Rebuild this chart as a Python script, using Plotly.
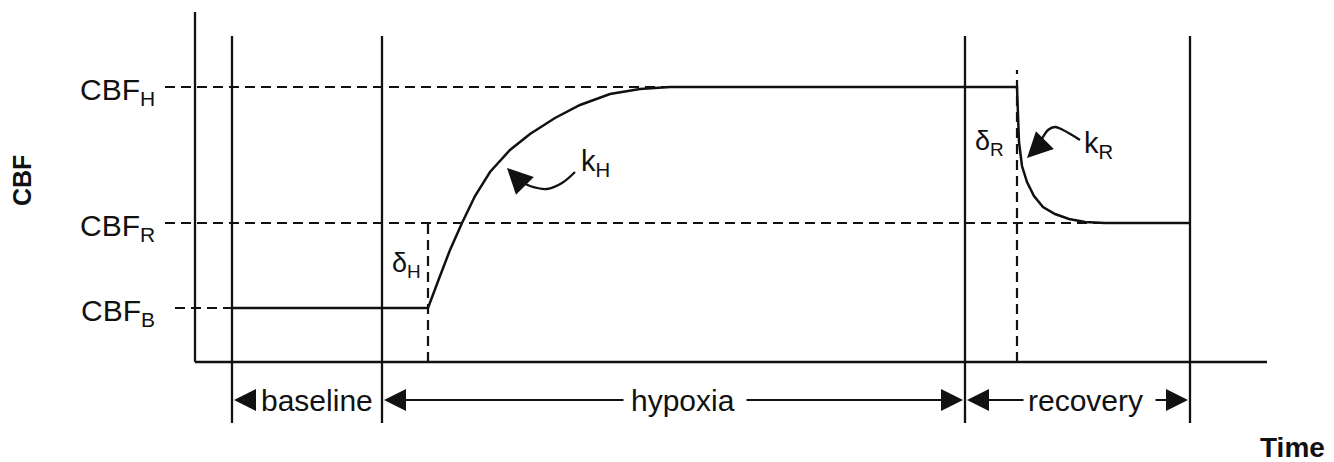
import plotly.graph_objects as go

FONT = "Liberation Sans, Arial, sans-serif"
INK = "#111111"

# time axis runs in arbitrary units, CBF in arbitrary units
PHASE_EDGES = [3.7, 18.7, 77.0, 99.5]
PHASE_NAMES = ["baseline", "hypoxia", "recovery"]
PHASE_LABEL_T = [12.2, 48.8, 89.0]

LEVEL_NAMES = ["CBF<sub>B</sub>", "CBF<sub>R</sub>", "CBF<sub>H</sub>"]
LEVEL_VALUES = [5.4, 13.9, 27.5]
LEVEL_DASH_END = [23.3, 99.5, 82.2]

T_HYPOXIA_ONSET = 23.3
T_RECOVERY_ONSET = 82.2

# CBF response
TIME = [3.7, 23.3, 24.5, 25.5, 26.7, 28.0, 29.5, 31.5, 33.5, 36.0, 38.5,
        41.5, 44.5, 47.5, 82.2, 82.3, 82.4, 82.7, 83.2, 83.9, 84.8, 86.0,
        87.4, 89.0, 91.0, 99.5]
CBF = [5.4, 5.4, 8.6, 11.2, 13.9, 16.6, 19.0, 21.2, 22.8, 24.4, 25.7,
       26.8, 27.3, 27.5, 27.5, 24.6, 22.0, 19.6, 18.0, 16.6, 15.5, 14.8,
       14.3, 14.0, 13.9, 13.9]

# curved pointers to the rate constants
KH_T = [38.0, 36.7, 35.2, 33.5, 32.5]
KH_CBF = [19.0, 17.9, 17.3, 17.6, 18.1]
KH_TIP = (31.2, 19.4)
KR_T = [88.5, 87.7, 86.8, 86.0, 85.3, 84.8, 84.3]
KR_CBF = [22.2, 22.7, 23.2, 23.5, 23.2, 22.5, 21.5]
KR_TIP = (83.2, 20.4)

X_MAX = 107.2
Y_MAX = 35.0
ARROW_Y = -3.8

fig = go.Figure()

line = dict(color=INK, width=2.3)
dash = dict(color=INK, width=2.2, dash="10px,6px")

# axes
fig.add_shape(type="line", x0=0, x1=0, y0=0, y1=Y_MAX, line=line)
fig.add_shape(type="line", x0=0, x1=X_MAX, y0=0, y1=0, line=line)

# phase boundaries
for t in PHASE_EDGES:
    fig.add_shape(type="line", x0=t, x1=t, y0=-6.1, y1=32.6, line=line)

# reference levels
for name, level, end in zip(LEVEL_NAMES, LEVEL_VALUES, LEVEL_DASH_END):
    start = -2.0 if level == LEVEL_VALUES[0] else -3.0
    fig.add_shape(type="line", x0=start, x1=end, y0=level, y1=level, line=dash)
    fig.add_annotation(x=-3.8, y=level - 0.4, text=name, showarrow=False,
                       xanchor="right", yanchor="middle",
                       font=dict(size=30, color=INK))

# onset markers
fig.add_shape(type="line", x0=T_HYPOXIA_ONSET, x1=T_HYPOXIA_ONSET,
              y0=0, y1=LEVEL_VALUES[1], line=dash)
fig.add_shape(type="line", x0=T_RECOVERY_ONSET, x1=T_RECOVERY_ONSET,
              y0=0, y1=29.2, line=dash)

fig.add_trace(go.Scatter(x=TIME, y=CBF, mode="lines",
                         line=dict(color=INK, width=2.5), hoverinfo="skip"))

for xs, ys in [(KH_T, KH_CBF), (KR_T, KR_CBF)]:
    fig.add_trace(go.Scatter(x=xs, y=ys, mode="lines",
                             line=dict(color=INK, width=2.3, shape="spline"),
                             hoverinfo="skip"))

arrow = dict(showarrow=True, text="", arrowhead=2, arrowwidth=2.2,
             arrowcolor=INK, axref="x", ayref="y", standoff=0)
fig.add_annotation(x=KH_TIP[0], y=KH_TIP[1], ax=KH_T[-1], ay=KH_CBF[-1],
                   arrowsize=2.3, **arrow)
fig.add_annotation(x=KR_TIP[0], y=KR_TIP[1], ax=KR_T[-1], ay=KR_CBF[-1],
                   arrowsize=2.3, **arrow)

# phase dimension arrows (head, tail)
spans = [
    (PHASE_EDGES[0] + 0.2, 5.8),
    (PHASE_EDGES[1] + 0.2, 43.0), (PHASE_EDGES[2] - 0.2, 55.0),
    (PHASE_EDGES[2] + 0.2, 83.0), (PHASE_EDGES[3] - 0.2, 95.9),
]
for head, tail in spans:
    fig.add_annotation(x=head, y=ARROW_Y, ax=tail, ay=ARROW_Y,
                       arrowsize=2.0, **arrow)

for name, t in zip(PHASE_NAMES, PHASE_LABEL_T):
    fig.add_annotation(x=t, y=ARROW_Y, text=name, showarrow=False,
                       font=dict(size=30, color=INK))

# symbols
fig.add_annotation(x=21.1, y=9.7, text="δ<sub>H</sub>", showarrow=False,
                   font=dict(size=27, color=INK))
fig.add_annotation(x=79.4, y=21.9, text="δ<sub>R</sub>", showarrow=False,
                   font=dict(size=27, color=INK))
fig.add_annotation(x=40.0, y=19.9, text="k<sub>H</sub>", showarrow=False,
                   font=dict(size=29, color=INK))
fig.add_annotation(x=90.3, y=21.7, text="k<sub>R</sub>", showarrow=False,
                   font=dict(size=29, color=INK))

# axis titles
fig.add_annotation(x=-17.3, y=18.1, text="<b>CBF</b>", textangle=-90,
                   showarrow=False, font=dict(size=25, color=INK))
fig.add_annotation(x=109.7, y=-8.5, text="<b>Time</b>", showarrow=False,
                   font=dict(size=28, color=INK))

# the page body adds an 8px offset, so the figure is sized to fit the window
fig.update_layout(
    width=1326,
    height=454,
    margin=dict(l=0, r=0, t=0, b=0),
    paper_bgcolor="white",
    plot_bgcolor="white",
    showlegend=False,
    font=dict(family=FONT, color=INK),
    xaxis=dict(range=[-18.7, 113.9], visible=False, fixedrange=True),
    yaxis=dict(range=[-10.0, 35.4], visible=False, fixedrange=True),
)

fig.write_html("out.html")
